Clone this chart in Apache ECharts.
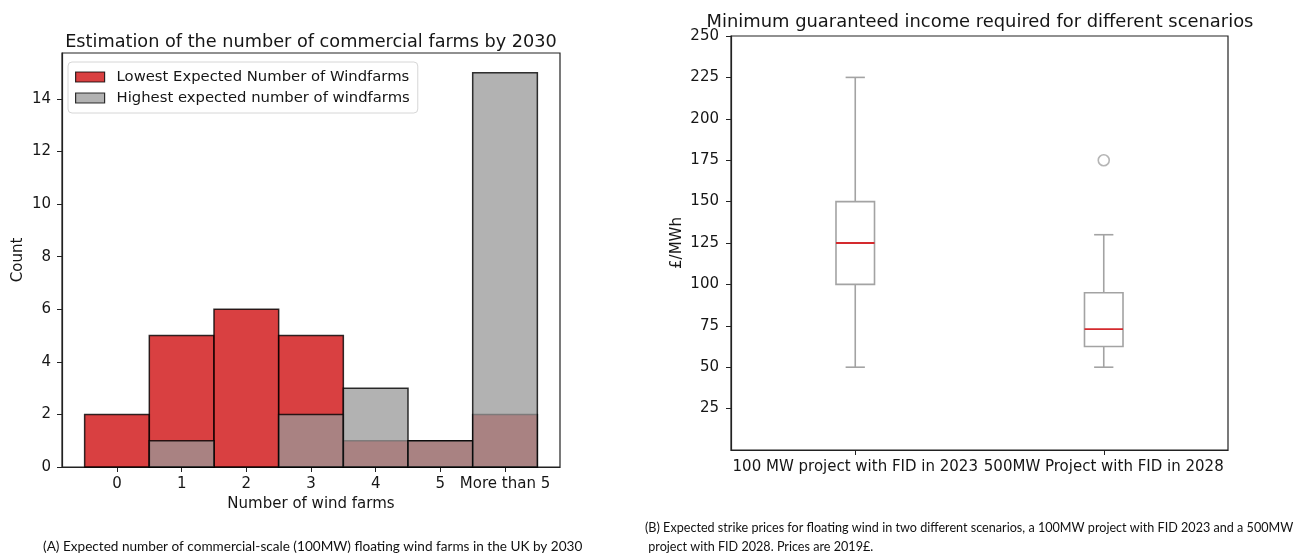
<!DOCTYPE html>
<html>
<head>
<meta charset="utf-8">
<script src="https://cdn.jsdelivr.net/npm/echarts@6/dist/echarts.min.js"></script>
<style>
  html, body { margin: 0; padding: 0; background: #fff; }
  #chart { width: 1301px; height: 557px; }
</style>
</head>
<body>
<div id="chart"></div>
<script>
// Histogram: expected number of commercial floating wind farms by 2030
const farmCategories = ['0', '1', '2', '3', '4', '5', 'More than 5'];
const lowestCounts  = [2, 5, 6, 5, 1, 1, 2];
const highestCounts = [0, 1, 0, 2, 3, 1, 15];
const countTicks = [0, 2, 4, 6, 8, 10, 12, 14];

// Box plot: minimum guaranteed income (£/MWh) per scenario
const scenarioLabels = ['100 MW project with FID in 2023', '500MW Project with FID in 2028'];
const whiskerLow  = [50, 50];
const quartile1   = [100, 62.5];
const medians     = [125, 73];
const quartile3   = [150, 95];
const whiskerHigh = [225, 130];
const outlierPoints = [[1, 175]];
const priceTicks = [25, 50, 75, 100, 125, 150, 175, 200, 225, 250];

const FONT = 'DejaVu Sans';
const TEXT = '#161616';
const LOW_FILL = 'rgba(204, 0, 2, 0.75)';
const HIGH_FILL = 'rgba(152, 152, 152, 0.75)';
const EDGE = 'rgba(0, 0, 0, 0.8)';
const BOX_LINE = '#a3a3a3';
const TICK_SIZE = 15;

// One histogram bin: a unit-wide rect centred on its category position
function histBar(fill) {
  return function (params, api) {
    const x = api.value(0), y = api.value(1);
    if (!y) return null;
    const p0 = api.coord([x - 0.5, y]);
    const p1 = api.coord([x + 0.5, 0]);
    return {
      type: 'rect',
      shape: { x: p0[0], y: p0[1], width: p1[0] - p0[0], height: p1[1] - p0[1] },
      style: { fill: fill, stroke: EDGE, lineWidth: 1.5 }
    };
  };
}

// One box: whiskers with half-width caps, quartile box and a red median line
function boxItem(params, api) {
  const i = api.value(0);
  const band = api.size([1, 0])[0];
  const half = band * 0.0775;
  const capHalf = half / 2;
  const lo = api.coord([i, api.value(1)]);
  const b1 = api.coord([i, api.value(2)]);
  const md = api.coord([i, api.value(3)]);
  const b3 = api.coord([i, api.value(4)]);
  const hi = api.coord([i, api.value(5)]);
  const cx = lo[0];
  const line = { stroke: BOX_LINE, lineWidth: 1.6 };
  return {
    type: 'group',
    children: [
      { type: 'line', shape: { x1: cx, y1: lo[1], x2: cx, y2: b1[1] }, style: line },
      { type: 'line', shape: { x1: cx, y1: b3[1], x2: cx, y2: hi[1] }, style: line },
      { type: 'line', shape: { x1: cx - capHalf, y1: lo[1], x2: cx + capHalf, y2: lo[1] }, style: line },
      { type: 'line', shape: { x1: cx - capHalf, y1: hi[1], x2: cx + capHalf, y2: hi[1] }, style: line },
      { type: 'rect', shape: { x: cx - half, y: b3[1], width: half * 2, height: b1[1] - b3[1] },
        style: { fill: 'none', stroke: BOX_LINE, lineWidth: 1.6 } },
      { type: 'line', shape: { x1: cx - half, y1: md[1], x2: cx + half, y2: md[1] },
        style: { stroke: '#d42a2e', lineWidth: 1.8 } }
    ]
  };
}

const histLow = farmCategories.map((c, i) => [i, lowestCounts[i]]);
const histHigh = farmCategories.map((c, i) => [i, highestCounts[i]]);
const boxData = scenarioLabels.map((s, i) =>
  [i, whiskerLow[i], quartile1[i], medians[i], quartile3[i], whiskerHigh[i]]);

const chart = echarts.init(document.getElementById('chart'), null, { renderer: 'canvas' });

const axisLine = { show: true, onZero: false, lineStyle: { color: '#222', width: 1.2 } };

const option = {
  backgroundColor: '#fff',
  animation: false,
  textStyle: { fontFamily: FONT, color: TEXT },
  title: [
    { text: 'Estimation of the number of commercial farms by 2030', left: 306, top: 28, textAlign: 'center',
      textStyle: { fontFamily: FONT, fontSize: 17.7, fontWeight: 'normal', color: TEXT } },
    { text: 'Minimum guaranteed income required for different scenarios', left: 975, top: 8, textAlign: 'center',
      textStyle: { fontFamily: FONT, fontSize: 17.9, fontWeight: 'normal', color: TEXT } }
  ],
  legend: {
    left: 68, top: 62,
    orient: 'vertical',
    padding: [6, 8, 6, 7],
    itemGap: 3,
    itemWidth: 29, itemHeight: 10,
    backgroundColor: 'rgba(255,255,255,0.8)',
    borderColor: '#d6d6d6', borderWidth: 1, borderRadius: 4,
    textStyle: { fontFamily: FONT, fontSize: 14.8, color: TEXT, lineHeight: 18, padding: [0, 0, 0, 7] },
    data: [
      { name: 'Lowest Expected Number of Windfarms', icon: 'rect',
        itemStyle: { color: LOW_FILL, borderColor: EDGE, borderWidth: 1.2 } },
      { name: 'Highest expected number of windfarms', icon: 'rect',
        itemStyle: { color: HIGH_FILL, borderColor: EDGE, borderWidth: 1.2 } }
    ]
  },
  grid: [
    { left: 62, top: 53, width: 498, height: 414, show: true, borderColor: '#222', borderWidth: 1.2, backgroundColor: 'transparent' },
    { left: 731, top: 36, width: 497, height: 414, show: true, borderColor: '#222', borderWidth: 1.2, backgroundColor: 'transparent' }
  ],
  xAxis: [
    {
      gridIndex: 0, type: 'value', min: -0.85, max: 6.85,
      name: 'Number of wind farms', nameLocation: 'middle', nameGap: 30,
      nameTextStyle: { fontFamily: FONT, fontSize: TICK_SIZE, color: TEXT },
      axisLine: axisLine,
      axisTick: { show: true, length: 5, customValues: farmCategories.map((c, i) => i), lineStyle: { color: '#222' } },
      axisLabel: { customValues: farmCategories.map((c, i) => i), margin: 10,
        fontFamily: FONT, fontSize: TICK_SIZE, color: TEXT,
        formatter: v => farmCategories[Math.round(v)] },
      splitLine: { show: false }
    },
    {
      gridIndex: 1, type: 'category', data: scenarioLabels, boundaryGap: true,
      axisLine: axisLine,
      axisTick: { show: true, alignWithLabel: true, length: 5, lineStyle: { color: '#222' } },
      axisLabel: { margin: 10, fontFamily: FONT, fontSize: TICK_SIZE, color: TEXT, interval: 0 },
      splitLine: { show: false }
    }
  ],
  yAxis: [
    {
      gridIndex: 0, type: 'value', min: 0, max: 15.75,
      name: 'Count', nameLocation: 'middle', nameGap: 36, nameRotate: 90,
      nameTextStyle: { fontFamily: FONT, fontSize: TICK_SIZE, color: TEXT },
      axisLine: axisLine,
      axisTick: { show: true, length: 5, customValues: countTicks, lineStyle: { color: '#222' } },
      axisLabel: { customValues: countTicks, margin: 11, fontFamily: FONT, fontSize: TICK_SIZE, color: TEXT },
      splitLine: { show: false }
    },
    {
      gridIndex: 1, type: 'value', min: 0, max: 250,
      name: '£/MWh', nameLocation: 'middle', nameGap: 46, nameRotate: 90,
      nameTextStyle: { fontFamily: FONT, fontSize: TICK_SIZE, color: TEXT },
      axisLine: axisLine,
      axisTick: { show: true, length: 5, customValues: priceTicks, lineStyle: { color: '#222' } },
      axisLabel: { customValues: priceTicks, margin: 12, fontFamily: FONT, fontSize: TICK_SIZE, color: TEXT },
      splitLine: { show: false }
    }
  ],
  series: [
    { name: 'Lowest Expected Number of Windfarms', type: 'custom', xAxisIndex: 0, yAxisIndex: 0,
      renderItem: histBar(LOW_FILL), data: histLow, encode: { x: 0, y: 1 },
      itemStyle: { color: LOW_FILL }, z: 2 },
    { name: 'Highest expected number of windfarms', type: 'custom', xAxisIndex: 0, yAxisIndex: 0,
      renderItem: histBar(HIGH_FILL), data: histHigh, encode: { x: 0, y: 1 },
      itemStyle: { color: HIGH_FILL }, z: 3 },
    { name: 'income', type: 'custom', xAxisIndex: 1, yAxisIndex: 1,
      renderItem: boxItem, data: boxData, encode: { x: 0, y: [1, 2, 3, 4, 5] }, z: 3 },
    { name: 'outliers', type: 'scatter', xAxisIndex: 1, yAxisIndex: 1,
      data: outlierPoints, symbol: 'circle', symbolSize: 11,
      itemStyle: { color: 'rgba(255,255,255,0)', borderColor: BOX_LINE, borderWidth: 1.6 }, z: 4 }
  ],
  graphic: [
    { type: 'text', left: 43, top: 540,
      style: { text: '(A) Expected number of commercial-scale (100MW) floating wind farms in the UK by 2030',
        fontFamily: 'Lato', fontSize: 13.6, fill: '#111' } },
    { type: 'text', x: 645, y: 518, scaleX: 0.97,
      style: { text: '(B) Expected strike prices for floating wind in two different scenarios, a 100MW project with FID 2023 and a 500MW\n project with FID 2028. Prices are 2019£.',
        fontFamily: 'Lato', fontSize: 13, lineHeight: 19.5, fill: '#111' } }
  ]
};

chart.setOption(option);
</script>
</body>
</html>
